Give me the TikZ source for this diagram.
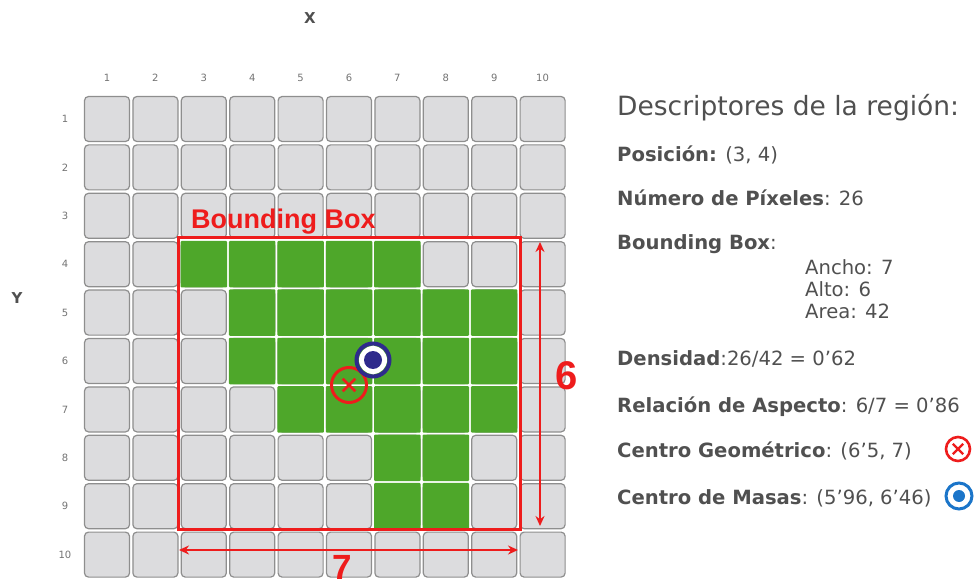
\documentclass[tikz,border=0pt]{standalone}
\usepackage{fontspec}
\setmainfont{DejaVu Sans}
\newfontfamily\boxfont{Liberation Sans}
\usetikzlibrary{arrows.meta,shapes.misc}

\definecolor{cellgray}{HTML}{DCDCDE}
\definecolor{cellline}{HTML}{8E8E8E}
\definecolor{regiongreen}{HTML}{4EA72A}
\definecolor{boxred}{HTML}{EE1C1C}
\definecolor{txtgray}{HTML}{505050}
\definecolor{massblue}{HTML}{2E2A8C}
\definecolor{iconblue}{HTML}{1B75C9}

\tikzset{
  cell/.style={draw=cellline,fill=cellgray,line width=1.2pt,rounded corners=4pt,
    minimum size=45pt,inner sep=0pt},
  pix/.style={fill=regiongreen,rounded corners=1pt,minimum size=46.5pt,inner sep=0pt},
  axisnum/.style={text=gray!90!black,font=\fontsize{10}{11}\selectfont},
  axisname/.style={text=txtgray,font=\bfseries\fontsize{15}{17}\selectfont},
  desc/.style={anchor=base west,text=txtgray,inner sep=0pt,
    font=\fontsize{19.6}{21}\selectfont},
  dimline/.style={boxred,line width=2.2pt,
    {Stealth[length=10pt,width=9pt]}-{Stealth[length=10pt,width=9pt]}},
  dimtext/.style={boxred,font=\boxfont\bfseries\fontsize{40}{44}\selectfont,inner sep=0pt},
  ring/.style={circle,draw,inner sep=0pt},
  dot/.style={circle,fill,inner sep=0pt},
  xmark/.style={cross out,draw=boxred,inner sep=0pt},
}

\begin{document}
\begin{tikzpicture}[x=1pt,y=-1pt]
\useasboundingbox (0,0) rectangle (977,585);

% rejilla de pixeles
\foreach \i in {1,...,10}{
  \node[axisnum] (col\i) at ({107+(\i-1)*48.4},78) {\i};
  \node[axisnum] (row\i) at (65,{119+(\i-1)*48.4}) {\i};
  \foreach \j in {1,...,10}
    \node[cell] (c-\i-\j) at ({107+(\i-1)*48.4},{119+(\j-1)*48.4}) {};
}
\node[axisname] (xaxis) at (310,18) {X};
\node[axisname] (yaxis) at (17,298) {Y};

% region
\foreach \i/\j in {3/4,4/4,5/4,6/4,7/4,
                   4/5,5/5,6/5,7/5,8/5,9/5,
                   4/6,5/6,6/6,7/6,8/6,9/6,
                   5/7,6/7,7/7,8/7,9/7,
                   7/8,8/8,7/9,8/9}
  \node[pix] (p-\i-\j) at (c-\i-\j) {};

% bounding box y medidas
\coordinate (bb-nw) at (178,238);
\coordinate (bb-se) at (520,529);
\draw[boxred,line width=3pt] (bb-nw) rectangle (bb-se);
\node[boxred,anchor=base west,inner sep=0pt,
  font=\boxfont\bfseries\fontsize{27}{29}\selectfont] (bbtitle) at (191,229) {Bounding Box};

\coordinate (v-top) at (540,242);
\coordinate (v-bot) at (540,526);
\draw[dimline] (v-top) -- (v-bot);
\node[dimtext] (alto) at (567,376) {6};

\coordinate (h-left) at (179,550);
\coordinate (h-right) at (518,550);
\draw[dimline] (h-left) -- (h-right);
\node[dimtext,font=\boxfont\bfseries\fontsize{35}{38}\selectfont] (ancho) at (342,567) {7};

% centros
\node[ring,draw=boxred,line width=3pt,minimum size=35pt] (cgeo) at (349,385) {};
\node[xmark,line width=2.6pt,minimum size=10pt] (cgeo-x) at (cgeo) {};
\node[dot,fill=white,minimum size=28pt] (cmas-w) at (373,360) {};
\node[ring,draw=massblue,line width=4pt,minimum size=33pt] (cmas) at (373,360) {};
\node[dot,fill=massblue,minimum size=18pt] (cmas-d) at (cmas) {};

% descriptores
\node[desc,font=\fontsize{26.5}{29}\selectfont] (title) at (617,116) {Descriptores de la región:};
\node[desc] (pos) at (617,162) {\textbf{Posición:} (3, 4)};
\node[desc] (npix) at (617,206) {\textbf{Número de Píxeles}: 26};
\node[desc] (bbox) at (617,250) {\textbf{Bounding Box}:};
\node[desc] (bbw) at (805,275) {Ancho: 7};
\node[desc] (bbh) at (805,297) {Alto: 6};
\node[desc] (bba) at (805,319) {Area: 42};
\node[desc] (dens) at (617,365) {\textbf{Densidad}:26/42 = 0’62};
\node[desc] (aspect) at (617,412) {\textbf{Relación de Aspecto}: 6/7 = 0’86};
\node[desc] (geo) at (617,457) {\textbf{Centro Geométrico}: (6’5, 7)};
\node[desc] (mas) at (617,504) {\textbf{Centro de Masas}: (5’96, 6’46)};

% leyenda
\node[ring,draw=boxred,line width=2.6pt,minimum size=24pt] (geo-icon) at (958,449) {};
\node[xmark,line width=2.4pt,minimum size=8pt] (geo-icon-x) at (geo-icon) {};
\node[ring,draw=iconblue,line width=3pt,minimum size=26pt] (mas-icon) at (959,496) {};
\node[dot,fill=iconblue,minimum size=12pt] (mas-icon-d) at (mas-icon) {};
\end{tikzpicture}
\end{document}
